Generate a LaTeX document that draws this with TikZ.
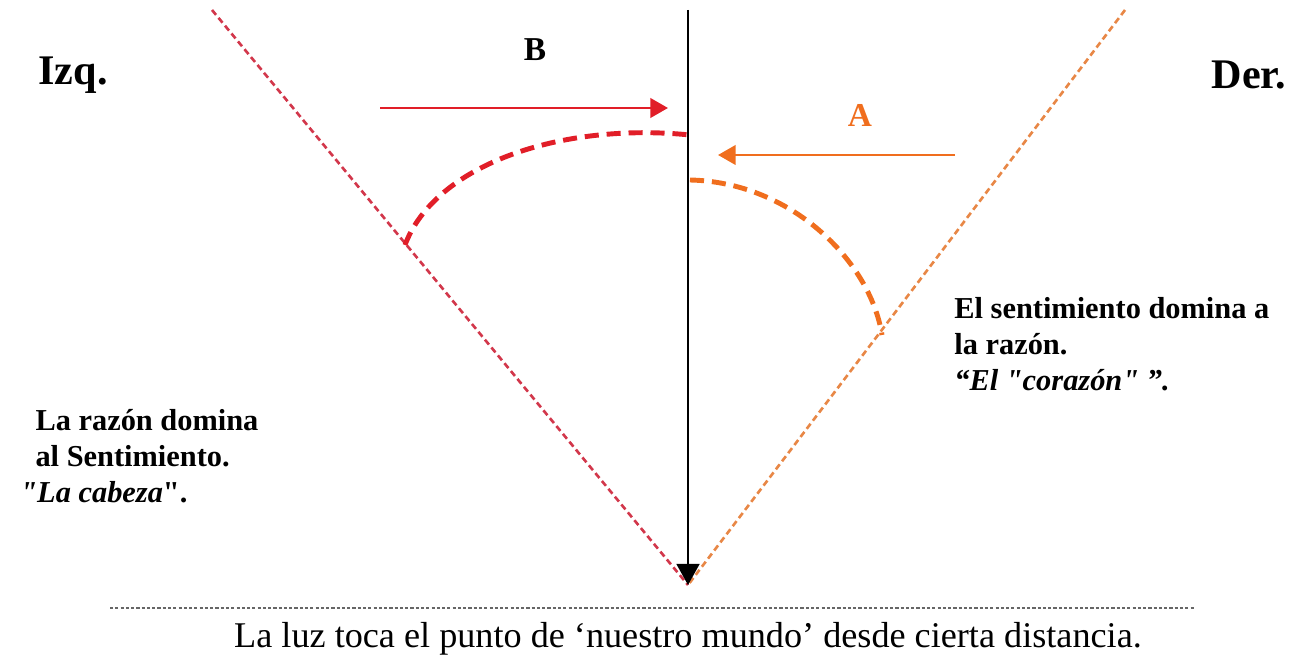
\documentclass[tikz,border=0pt]{standalone}
\usepackage{fontspec}
\setmainfont{Liberation Serif}[Ligatures=TeXOff]
\usepackage{xcolor}
\usetikzlibrary{arrows.meta}

\definecolor{razonred}{RGB}{225,30,40}
\definecolor{sentorange}{RGB}{240,110,30}
\definecolor{linered}{RGB}{210,55,75}
\definecolor{lineorange}{RGB}{232,135,70}

\begin{document}
\begin{tikzpicture}[
    x=0.02cm, y=-0.02cm,
    side/.style   = {font=\fontsize{24}{28}\selectfont\bfseries},
    tag/.style    = {font=\fontsize{19}{22}\selectfont\bfseries},
    note/.style   = {align=left, anchor=north west, inner sep=0pt,
                     font=\fontsize{17.3}{20.5}\selectfont\bfseries},
    ray/.style    = {line width=1.5pt, dash pattern=on 3.6pt off 2.2pt},
    swing/.style  = {line width=2.8pt, dash pattern=on 8pt off 4.5pt},
    push/.style   = {line width=1.6pt, -{Triangle[length=10pt, width=11pt]}}
  ]
  \useasboundingbox (0,0) rectangle (1299,658);

  % points of the figure
  \coordinate (apex)    at (688,585);
  \coordinate (vtop)    at (688,10);
  \coordinate (redtop)  at (212,10);
  \coordinate (orgtop)  at (1125,10);
  \coordinate (rarcL)   at (405,245);
  \coordinate (rarcR)   at (690,135);
  \coordinate (oarcL)   at (690,180);
  \coordinate (oarcR)   at (882,335);
  \coordinate (bstart)  at (380,108);
  \coordinate (bend)    at (668,108);
  \coordinate (astart)  at (955,155);
  \coordinate (aend)    at (718,155);
  \coordinate (rulel)   at (110,608);
  \coordinate (ruler)   at (1195,608);

  % labels
  \node[side] (izq) at (73,75)   {Izq.};
  \node[side] (der) at (1249,75) {Der.};
  \node[tag]  (labB) at (535,50) {B};
  \node[tag, text=sentorange] (labA) at (860,115) {A};

  \node[note] (razon) at (20,409)
    {\hspace*{0.5em}La razón domina\\
     \hspace*{0.5em}al Sentimiento.\\
     \textit{"La cabeza}".};
  \node[note] (sentim) at (954,297)
    {El sentimiento domina a\\
     la razón.\\
     \textit{“El "corazón" ”.}};

  \node[font=\fontsize{20.6}{24}\selectfont] (luz) at (688,639)
    {La luz toca el punto de ‘nuestro mundo’ desde cierta distancia.};

  % the two sides
  \draw[ray, linered]    (redtop) -- (apex);
  \draw[ray, lineorange] (orgtop) -- (apex);

  % the middle line
  \draw[line width=1.3pt, -{Triangle[length=12pt, width=13pt]}] (vtop) -- (apex);

  % the swings
  \draw[swing, razonred] (rarcL) .. controls (435,165) and (560,122) .. (rarcR);
  \draw[swing, sentorange] (oarcL) .. controls (790,182) and (870,260) .. (oarcR);

  % the pushes
  \draw[push, razonred]   (bstart) -- (bend);
  \draw[push, sentorange] (astart) -- (aend);

  % rule under the figure
  \draw[gray!80!black, line width=1.2pt, dash pattern=on 1.8pt off 1.2pt] (rulel) -- (ruler);
\end{tikzpicture}
\end{document}
